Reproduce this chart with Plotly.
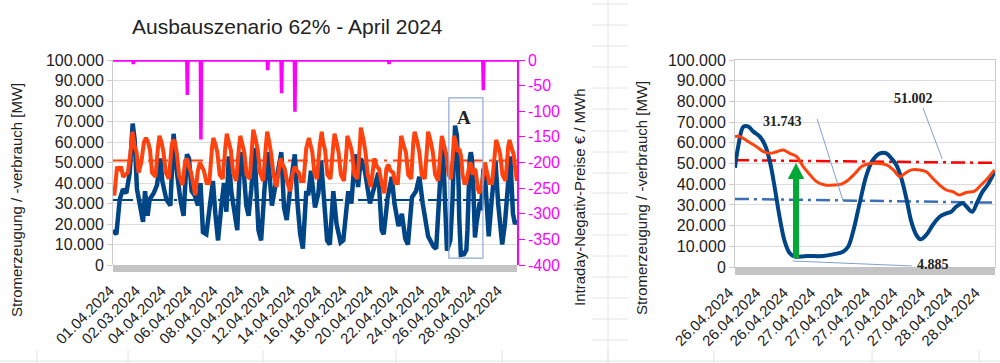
import plotly.graph_objects as go

# ---------------- data ----------------
TITLE = "Ausbauszenario 62% - April 2024"
Y_TITLE = "Stromerzeugung / -verbrauch [MW]"
Y2_TITLE = "Intraday-Negativ-Preise € / MWh"

left_tick_labels = ["01.04.2024", "02.03.2024", "04.04.2024", "06.04.2024", "08.04.2024",
                    "10.04.2024", "12.04.2024", "14.04.2024", "16.04.2024", "18.04.2024",
                    "20.04.2024", "22.04.2024", "24.04.2024", "26.04.2024", "28.04.2024",
                    "30.04.2024"]
right_tick_labels = ["26.04.2024", "26.04.2024", "26.04.2024", "27.04.2024", "27.04.2024",
                     "27.04.2024", "27.04.2024", "27.04.2024", "28.04.2024", "28.04.2024"]

# generation (blue), April 2024, day offset since 01.04. 00:00, value in 1000 MW
gen_day = [0.0, 0.25, 0.5, 0.74, 0.99,
           1.24, 1.46, 1.61, 1.78, 1.98,
           2.23, 2.38, 2.57, 2.72,
           3.02, 3.27, 3.51, 3.66, 3.96,
           4.26, 4.5, 4.75,
           5.0, 5.24, 5.49, 5.64, 5.84,
           6.06, 6.31, 6.5, 6.68, 6.93,
           7.2, 7.42, 7.6, 7.8,
           8.05, 8.24, 8.42, 8.6, 8.78,
           9.03, 9.23, 9.4, 9.6, 9.9,
           10.07, 10.27, 10.5, 10.8,
           11.0, 11.25, 11.5, 11.8,
           12.0, 12.25, 12.5, 12.7, 12.9,
           13.2, 13.5, 13.7, 13.9,
           14.1, 14.35, 14.5, 14.7,
           15.0, 15.25, 15.45, 15.7, 15.9,
           16.1, 16.36, 16.6, 16.9,
           17.1, 17.47, 17.7, 17.97,
           18.2, 18.4, 18.7,
           19.08, 19.4, 19.7, 19.95,
           20.1, 20.4, 20.7, 20.9,
           21.2, 21.45, 21.7, 21.9,
           22.2, 22.5, 22.75,
           23.0, 23.4, 23.8,
           24.0, 24.28, 24.5, 24.8,
           25.05, 25.2, 25.33, 25.4, 25.54,
           25.625, 25.667, 25.71, 25.75, 25.79,
           25.83, 26.07, 26.24, 26.32, 26.38,
           26.43, 26.49, 26.57, 26.64, 26.73,
           26.77, 26.81, 26.88, 26.99, 27.1,
           27.24, 27.32, 27.4, 27.5, 27.6,
           27.75, 27.9,
           28.1, 28.4, 28.6, 28.9,
           29.1, 29.5, 29.7, 29.85, 30.0]
gen_k = [17, 15, 32, 37, 35,
         45, 69, 61, 37, 29,
         21, 36, 24, 32,
         35, 39, 52, 41, 32,
         29, 64, 45,
         32, 24, 54, 52, 36,
         34, 29, 40, 16, 15,
         30, 41, 25, 12,
         29, 40, 26, 53, 36,
         24, 17, 45, 55, 29,
         24, 37, 57, 17,
         12, 37, 55, 29,
         37, 48, 55, 28, 22,
         40, 54, 30, 15,
         8, 36, 34, 46,
         28, 35, 51, 25, 12,
         10, 36, 20, 11,
         12, 36, 30, 54,
         38, 52, 46,
         30, 38, 45, 17,
         15, 33, 43, 30,
         19, 25, 13, 10,
         33, 36, 43,
         30, 14, 9,
         8, 40, 57, 7,
         12, 30, 48, 68, 63,
         51, 38, 23, 12, 6.6,
         5, 5.3, 7.4, 17, 31.6,
         44.4, 51.7, 55, 52.5, 42.8,
         33.2, 21.9, 13.4, 20.3, 25.9,
         30.8, 26.7, 36.4, 46, 46,
         30, 14,
         30, 51, 30, 10,
         20, 53, 25, 20, 22]

# consumption (orange)
con_day = [0.00, 0.10, 0.30, 0.45, 0.60, 0.75, 0.90,
           1.10, 1.30, 1.45, 1.60, 1.75, 1.90,
           2.10, 2.30, 2.45, 2.60, 2.75, 2.90,
           3.15, 3.35, 3.45, 3.60, 3.75, 3.92,
           4.15, 4.35, 4.45, 4.60, 4.75, 4.90,
           5.15, 5.35, 5.50, 5.65, 5.80, 5.95,
           6.10, 6.30, 6.45, 6.60, 6.75, 6.95,
           7.15, 7.35, 7.45, 7.60, 7.75, 7.92,
           8.15, 8.35, 8.45, 8.60, 8.75, 8.92,
           9.15, 9.35, 9.45, 9.60, 9.75, 9.92,
           10.15, 10.35, 10.42, 10.60, 10.75, 10.92,
           11.15, 11.35, 11.45, 11.60, 11.75, 11.92,
           12.15, 12.35, 12.45, 12.60, 12.75, 12.95,
           13.15, 13.35, 13.50, 13.65, 13.80, 13.95,
           14.15, 14.35, 14.55, 14.65, 14.80, 14.95,
           15.15, 15.35, 15.50, 15.60, 15.75, 15.92,
           16.15, 16.35, 16.45, 16.60, 16.75, 16.92,
           17.15, 17.35, 17.40, 17.60, 17.75, 17.92,
           18.15, 18.35, 18.40, 18.60, 18.75, 18.92,
           19.15, 19.35, 19.40, 19.60, 19.75, 19.95,
           20.15, 20.30, 20.45, 20.60, 20.80, 20.95,
           21.15, 21.35, 21.40, 21.60, 21.75, 21.92,
           22.15, 22.30, 22.40, 22.60, 22.75, 22.92,
           23.15, 23.35, 23.40, 23.60, 23.75, 23.92,
           24.15, 24.35, 24.42, 24.60, 24.75, 24.92,
           25.10, 25.25, 25.33, 25.45, 25.57, 25.74, 25.85, 25.96,
           26.09, 26.23, 26.39, 26.50, 26.60, 26.71, 26.81, 26.93,
           27.10, 27.21, 27.34, 27.50, 27.62, 27.78, 27.95,
           28.15, 28.35, 28.45, 28.60, 28.75, 28.92,
           29.15, 29.35, 29.45, 29.60, 29.75, 29.90, 30.0]
con_k = [36, 34, 48, 46, 48, 43, 44,
         45, 55, 65, 58, 55, 45,
         50, 60, 62, 60, 56, 45,
         43, 58, 63, 60, 55, 45,
         42, 58, 61, 60, 54, 44,
         39, 50, 52, 48, 45, 40,
         34, 46, 50, 48, 46, 40,
         40, 57, 62, 59, 55, 44,
         42, 58, 64, 60, 56, 45,
         41, 57, 63, 59, 55, 44,
         42, 60, 66, 61, 56, 45,
         41, 58, 65, 60, 54, 44,
         38, 48, 52, 49, 47, 40,
         36, 45, 48, 46, 45, 41,
         41, 57, 62, 59, 55, 45,
         42, 58, 65, 60, 56, 44,
         42, 58, 64, 60, 55, 44,
         41, 57, 63, 59, 55, 44,
         42, 60, 67, 61, 55, 44,
         38, 49, 52, 48, 47, 40,
         35, 47, 49, 46, 45, 40,
         40, 58, 63, 58, 55, 44,
         42, 60, 65, 60, 55, 44,
         42, 60, 65, 60, 55, 44,
         41, 58, 63, 58, 54, 44,
         42, 55, 63, 60, 56, 56, 53, 44,
         40, 40, 48, 50, 49, 44, 47, 46,
         37, 35, 37, 47, 50, 45, 40,
         40, 58, 61, 58, 54, 44,
         41, 58, 61, 57, 54, 45, 41]

# intraday negative prices (EUR/MWh)
price_day = [0, 1.47, 1.51, 1.55, 5.48, 5.52, 5.56, 6.49, 6.53, 6.57,
             11.45, 11.49, 11.53, 12.48, 12.52, 12.56, 13.47, 13.51, 13.55,
             20.46, 20.5, 20.54, 27.46, 27.5, 27.54, 30]
price_eur = [0, 0, -8, 0, 0, -68, 0, 0, -155, 0,
             0, -20, 0, 0, -65, 0, 0, -101, 0,
             0, -8, 0, 0, -59, 0, 0]

# zoom window A: hours since 26.04. 00:00
zoom_gen_h = [8.0, 8.7, 9.7, 10.7, 11.7, 13.0, 14.0, 15.0, 16.0, 17.0, 18.0, 19.0, 20.0,
              22.4, 25.7, 27.7, 29.7, 30.7, 31.7, 33.1, 34.4, 35.7, 37.1, 38.4, 39.4,
              40.4, 41.4, 42.4, 43.4, 44.4, 45.2, 46.4, 47.7, 49.1, 50.4, 51.4, 52.4,
              53.7, 54.5, 55.6, 56.7, 57.7, 58.7, 60.1]
zoom_gen_k = [48, 59, 67.8, 67.8, 65.4, 63, 59, 51, 38, 23.5, 12.2, 6.6, 5,
              5.3, 5.3, 6.1, 7.4, 9.8, 17, 31.6, 44.4, 51.7, 54.9, 54.9, 52.5,
              49.3, 42.8, 33.2, 21.9, 15.5, 13.4, 15.5, 20.3, 24.3, 25.9, 26.7, 29.1,
              30.8, 29.1, 26.7, 31.6, 36.4, 39.6, 46]
zoom_con_h = [8.0, 9.0, 10.7, 12.4, 13.7, 15.0, 16.4, 17.7, 19.0, 20.4, 21.7, 23.1, 24.4,
              26.1, 27.7, 29.4, 30.7, 32.1, 33.4, 35.1, 36.8, 38.4, 39.8, 41.1, 42.1,
              43.4, 45.1, 46.4, 47.7, 49.1, 50.4, 51.7, 53.1, 54.4, 56.1, 57.4, 58.7, 60.1]
zoom_con_k = [63, 63, 60.5, 58, 55.7, 54.9, 55.7, 56.5, 54.9, 53.3, 48.5, 44.4, 41.2,
              39.6, 39.6, 40, 42, 45.2, 48.5, 50, 50, 49.3, 46.9, 43.6, 45.2,
              46.9, 46.9, 46, 42.8, 39.6, 37.2, 36.4, 34.8, 36, 36.7, 39.6, 42.8, 46.9]

gen_mean = 31743      # MW
con_mean = 51002      # MW
gen_min = 4885        # MW
zoom_con_ref = [51600, 50300]
zoom_gen_ref = [32900, 31100]

# ---------------- helpers / layout constants ----------------
W, H = 1000, 363
def px(x):
    return x / W
def py(y):
    return (H - y) / H

def de(v):
    return f"{v:,}".replace(",", ".")

FONT = "Liberation Sans, Arial, sans-serif"
SERIF = "Liberation Serif, Times New Roman, serif"
TXT = "#222222"
BLUE = "#004586"
ORANGE = "#ff420e"
MAGENTA = "#ff00ff"
GRID = "#dddddd"
AXL = "#cccccc"

L_X0, L_X1, L_TOP, L_BOT = 113, 517, 60, 265
R_X0, R_X1, R_TOP, R_BOT = 735, 995, 60, 267
DAYS = 30
R_H0, R_H1 = 8, 60.2

fig = go.Figure()

# left panel reference lines
fig.add_trace(go.Scatter(x=[0, DAYS], y=[con_mean, con_mean], mode="lines",
                         line=dict(color=ORANGE, width=2, dash="20px,6px,3px,6px"),
                         xaxis="x", yaxis="y", hoverinfo="skip"))
fig.add_trace(go.Scatter(x=[0, DAYS], y=[gen_mean, gen_mean], mode="lines",
                         line=dict(color=BLUE, width=2, dash="20px,6px,3px,6px"),
                         xaxis="x", yaxis="y", hoverinfo="skip"))
# left panel series
fig.add_trace(go.Scatter(x=gen_day, y=[v * 1000 for v in gen_k], mode="lines",
                         line=dict(color=BLUE, width=4.5), xaxis="x", yaxis="y"))
fig.add_trace(go.Scatter(x=con_day, y=[v * 1000 for v in con_k], mode="lines",
                         line=dict(color=ORANGE, width=4), xaxis="x", yaxis="y"))
# prices
fig.add_trace(go.Scatter(x=price_day, y=price_eur, mode="lines",
                         line=dict(color=MAGENTA, width=3.5), xaxis="x", yaxis="y2"))

# right panel
fig.add_trace(go.Scatter(x=[R_H0, R_H1], y=zoom_con_ref, mode="lines",
                         line=dict(color="#ff0000", width=2.5, dash="14px,5px,3px,5px"),
                         xaxis="x2", yaxis="y3"))
fig.add_trace(go.Scatter(x=[R_H0, R_H1], y=zoom_gen_ref, mode="lines",
                         line=dict(color="#3c6eb4", width=2.5, dash="14px,5px,3px,5px"),
                         xaxis="x2", yaxis="y3"))
fig.add_trace(go.Scatter(x=zoom_gen_h, y=[v * 1000 for v in zoom_gen_k], mode="lines",
                         line=dict(color=BLUE, width=4, shape="spline"),
                         xaxis="x2", yaxis="y3"))
fig.add_trace(go.Scatter(x=zoom_con_h, y=[v * 1000 for v in zoom_con_k], mode="lines",
                         line=dict(color=ORANGE, width=3, shape="spline"),
                         xaxis="x2", yaxis="y3"))

left_tick_pos = [0.22 + 1.92 * i for i in range(len(left_tick_labels))]
right_tick_pos = [R_H0 + 5.5 * i for i in range(len(right_tick_labels))]
price_ticks = list(range(-400, 1, 50))

yaxis_common = dict(range=[0, 100000], dtick=10000, tickformat=",d", showgrid=True,
                    gridcolor=GRID, gridwidth=1, zeroline=False, showline=True,
                    linecolor=AXL, ticks="outside", ticklen=5, tickcolor=AXL,
                    automargin=False,
                    tickfont=dict(size=16, color=TXT, family=FONT))

fig.update_layout(
    width=W, height=H, margin=dict(l=0, r=0, t=0, b=0, autoexpand=False),
    paper_bgcolor="white", plot_bgcolor="white", showlegend=False,
    separators=",.", font=dict(family=FONT, color=TXT),
    xaxis=dict(domain=[px(L_X0), px(L_X1)], range=[0, DAYS], anchor="y",
               tickvals=left_tick_pos, ticktext=left_tick_labels, tickangle=-45,
               ticks="outside", ticklen=10, tickcolor="rgba(0,0,0,0)", automargin=False,
               ticklabelshift=-6,
               tickfont=dict(size=15, color=TXT), showgrid=False, zeroline=False,
               showline=False),
    yaxis=dict(domain=[py(L_BOT), py(L_TOP)], anchor="x", **yaxis_common),
    yaxis2=dict(overlaying="y", side="right", anchor="x", range=[-400, 0],
                tickvals=price_ticks, ticktext=[str(v) for v in price_ticks],
                ticks="outside", ticklen=6, tickcolor=MAGENTA, showgrid=False,
                zeroline=False, showline=True, linecolor=MAGENTA, linewidth=1.5,
                automargin=False,
                tickfont=dict(size=16, color=MAGENTA)),
    xaxis2=dict(domain=[px(R_X0), px(R_X1)], range=[R_H0, R_H1], anchor="y3",
                tickvals=right_tick_pos, ticktext=right_tick_labels, tickangle=-45,
                ticks="outside", ticklen=10, tickcolor="rgba(0,0,0,0)", automargin=False,
                ticklabelshift=-6,
                tickfont=dict(size=15, color=TXT), showgrid=False, zeroline=False,
                showline=True, mirror=True, linecolor=AXL),
    yaxis3=dict(domain=[py(R_BOT), py(R_TOP)], anchor="x2", mirror=True, **yaxis_common),
)

def note(text, x, y, xref="paper", yref="paper", size=15, family=FONT, angle=0):
    return dict(text=text, x=x, y=y, xref=xref, yref=yref, showarrow=False,
                xanchor="center", yanchor="middle", textangle=angle,
                font=dict(size=size, color=TXT, family=family))

ann = [
    note(TITLE, px(287), py(27), size=21),
    note(Y_TITLE, px(16), py(200), angle=-90),
    note(Y2_TITLE, px(579), py(197), angle=-90),
    note(Y_TITLE, px(642), py(198), angle=-90),
    note("<b>A</b>", px(464), py(117), size=19, family=SERIF),
    note("<b>" + de(gen_mean) + "</b>", 17.6, 70500, "x2", "y3", 14, SERIF),
    note("<b>" + de(con_mean) + "</b>", 43.9, 81200, "x2", "y3", 14, SERIF),
    note("<b>" + de(gen_min) + "</b>", 47.8, 1400, "x2", "y3", 14, SERIF),
]
fig.update_layout(annotations=ann)

shapes = []
# hatched category band below plots
shapes.append(dict(type="rect", xref="x domain", yref="y domain", x0=0, x1=1,
                   y0=-7 / 205, y1=0, fillcolor="#c4c4c4", line=dict(width=0)))
shapes.append(dict(type="rect", xref="x2 domain", yref="y3 domain", x0=0, x1=1,
                   y0=-8 / 207, y1=0, fillcolor="#c4c4c4", line=dict(width=0)))
# box A
shapes.append(dict(type="rect", xref="x", yref="y", x0=24.94, x1=27.47, y0=3400, y1=81500,
                   line=dict(color="#8eaad6", width=1.2)))
# leader lines
LEAD = "#7f9fd0"
shapes.append(dict(type="line", xref="x2", yref="y3", x0=24.5, y0=71500, x1=29.7, y1=31900,
                   line=dict(color=LEAD, width=1)))
shapes.append(dict(type="line", xref="x2", yref="y3", x0=45.75, y0=76800, x1=49.6, y1=52200,
                   line=dict(color=LEAD, width=1)))
shapes.append(dict(type="line", xref="x2", yref="y3", x0=43.5, y0=500, x1=19.6, y1=2900,
                   line=dict(color=LEAD, width=1)))
# green arrow
GREEN = "#00a933"
shapes.append(dict(type="rect", xref="x2", yref="y3", x0=19.65, x1=20.85, y0=4300, y1=43000,
                   fillcolor=GREEN, line=dict(width=0)))
shapes.append(dict(type="path", xref="x2", yref="y3",
                   path="M 18.6 42500 L 21.9 42500 L 20.25 50200 Z",
                   fillcolor=GREEN, line=dict(width=0)))
# spreadsheet background lines
BG = "#e4e4e4"
shapes.append(dict(type="line", xref="paper", yref="paper", x0=px(608), x1=px(608),
                   y0=0, y1=1, line=dict(color=BG, width=1), layer="below"))
for yy in [4, 25, 46, 67, 88, 109, 131, 152, 173, 193, 214, 235, 256, 277, 298, 319, 340]:
    shapes.append(dict(type="line", xref="paper", yref="paper", x0=px(592), x1=px(628),
                       y0=py(yy), y1=py(yy), line=dict(color=BG, width=1), layer="below"))
shapes.append(dict(type="line", xref="paper", yref="paper", x0=0, x1=1,
                   y0=py(361), y1=py(361), line=dict(color=BG, width=1), layer="below"))
for xx in [37, 128, 263, 396, 502, 608, 714, 872, 979]:
    shapes.append(dict(type="line", xref="paper", yref="paper", x0=px(xx), x1=px(xx),
                       y0=py(350), y1=py(363), line=dict(color=BG, width=1), layer="below"))
fig.update_layout(shapes=shapes)

fig.write_html("out.html", config={"responsive": False, "displayModeBar": False},
               post_script="document.body.style.margin='0px';"
                           "document.body.style.overflow='hidden';")
